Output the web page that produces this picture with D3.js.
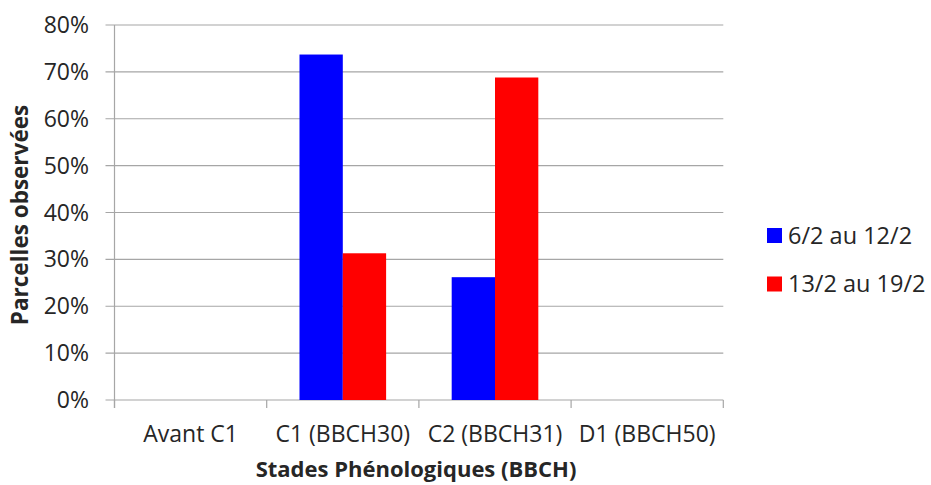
<!DOCTYPE html>
<html><head><meta charset="utf-8">
<script src="https://cdn.jsdelivr.net/npm/d3@7"></script>
<style>body{margin:0;background:#fff}svg{display:block}text{font-family:"Open Sans",sans-serif;fill:#262626}</style>
</head><body><svg id="c" width="931" height="485"></svg>
<script>
const categories = ["Avant C1", "C1 (BBCH30)", "C2 (BBCH31)", "D1 (BBCH50)"];
const seriesNames = ["6/2 au 12/2", "13/2 au 19/2"];
const series1 = [0, 0.737, 0.262, 0];
const series2 = [0, 0.313, 0.688, 0];
const colors = ["#0000ff", "#ff0000"];
const yTicks = [0, 0.1, 0.2, 0.3, 0.4, 0.5, 0.6, 0.7, 0.8];

const svg = d3.select("#c");
const pL = 114.5, pR = 723.3, pT = 25, pB = 400;
const x0 = d3.scaleBand().domain(categories).range([pL, pR]).padding(0);
const x1 = d3.scaleBand().domain([0, 1]).range([0, x0.bandwidth()]).paddingInner(0).paddingOuter(0.757);
const y = d3.scaleLinear().domain([0, 0.8]).range([pB, pT]);

// gridlines
svg.append("g").selectAll("line").data(yTicks).join("line")
  .attr("x1", pL - 9).attr("x2", pR).attr("y1", d => y(d)).attr("y2", d => y(d))
  .attr("stroke", "#a6a6a6").attr("stroke-width", 1.2);

// y labels
svg.append("g").selectAll("text").data(yTicks).join("text")
  .attr("x", 89).attr("y", d => y(d)).attr("dy", "0.35em").attr("text-anchor", "end")
  .attr("font-size", 23).text(d => d3.format(".0%")(d));

// y axis line
svg.append("line").attr("x1", pL).attr("x2", pL).attr("y1", pT).attr("y2", pB + 8)
  .attr("stroke", "#a6a6a6").attr("stroke-width", 1.2);

// x ticks
const tickXs = categories.map(c => x0(c)).concat([x0(categories[categories.length - 1]) + x0.bandwidth()]);
svg.append("g").selectAll("line").data(tickXs).join("line")
  .attr("x1", d => d).attr("x2", d => d).attr("y1", pB).attr("y2", pB + 8)
  .attr("stroke", "#a6a6a6").attr("stroke-width", 1.2);

// bars
const data = categories.map((c, i) => ({c, vals: [series1[i], series2[i]]}));
const g = svg.append("g").selectAll("g").data(data).join("g")
  .attr("transform", d => `translate(${x0(d.c)},0)`);
g.selectAll("rect").data(d => d.vals.map((v, k) => ({v, k}))).join("rect")
  .attr("x", d => x1(d.k)).attr("width", x1.bandwidth())
  .attr("y", d => y(d.v)).attr("height", d => pB - y(d.v))
  .attr("fill", d => colors[d.k]);

// x labels
svg.append("g").selectAll("text").data(categories).join("text")
  .attr("x", d => x0(d) + x0.bandwidth() / 2).attr("y", 442).attr("text-anchor", "middle")
  .attr("font-size", 23).text(d => d);

// axis titles
svg.append("text").attr("x", 416).attr("y", 477).attr("text-anchor", "middle")
  .attr("font-size", 22).attr("font-weight", "bold").text("Stades Phénologiques (BBCH)");
svg.append("text").attr("transform", `translate(28,215) rotate(-90)`)
  .attr("text-anchor", "middle").attr("font-size", 22.5).attr("font-weight", "bold").text("Parcelles observées");

// legend
const lg = svg.append("g").selectAll("g").data(seriesNames).join("g")
  .attr("transform", (d, i) => `translate(767,${228 + i * 48.5})`);
lg.append("rect").attr("width", 15).attr("height", 15).attr("fill", (d, i) => colors[i]);
lg.append("text").attr("x", 21).attr("y", 7.5).attr("dy", "0.35em").attr("font-size", 23.5).text(d => d);
</script></body></html>
